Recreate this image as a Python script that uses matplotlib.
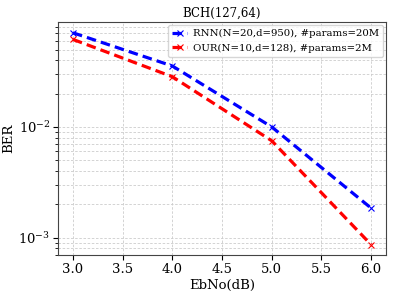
import matplotlib
matplotlib.use("Agg")
import matplotlib.pyplot as plt

plt.rcParams['font.family'] = ['DejaVu Serif']
plt.rcParams['mathtext.fontset'] = 'dejavuserif'

ebno = [3.0, 4.0, 5.0, 6.0]
ber_rnn = [0.0708, 0.0355, 0.0100, 0.00185]
ber_our = [0.0617, 0.0284, 0.0075, 0.000865]
label_rnn = "RNN(N=20,d=950), #params=20M"
label_our = "OUR(N=10,d=128), #params=2M"

fig, ax = plt.subplots(figsize=(3.95, 2.96), dpi=100)
ax.semilogy(ebno, ber_rnn, 'b--x', linewidth=2.3, markersize=5, markeredgewidth=0.8,
            dashes=(3, 1.6), label=label_rnn)
ax.semilogy(ebno, ber_our, 'r--x', linewidth=2.3, markersize=5, markeredgewidth=0.8,
            dashes=(3, 1.6), label=label_our)

ax.set_title("BCH(127,64)", fontsize=8.5, pad=4)
ax.set_xlabel("EbNo(dB)", fontsize=9.5, labelpad=2)
ax.set_ylabel("BER", fontsize=9.5, labelpad=2)
ax.tick_params(labelsize=9.5, pad=2)
ax.set_xticks([3.0, 3.5, 4.0, 4.5, 5.0, 5.5, 6.0])
ax.grid(True, which='both', linestyle=(0, (3, 2)), color='#cccccc', linewidth=0.6)
for s in ax.spines.values():
    s.set_color('#444444')
ax.legend(loc='upper right', fontsize=7.3, handlelength=1.4, handletextpad=0.6,
          borderaxespad=0.3)

fig.subplots_adjust(left=0.147, right=0.977, top=0.925, bottom=0.138)
fig.savefig("out.png", dpi=100)
